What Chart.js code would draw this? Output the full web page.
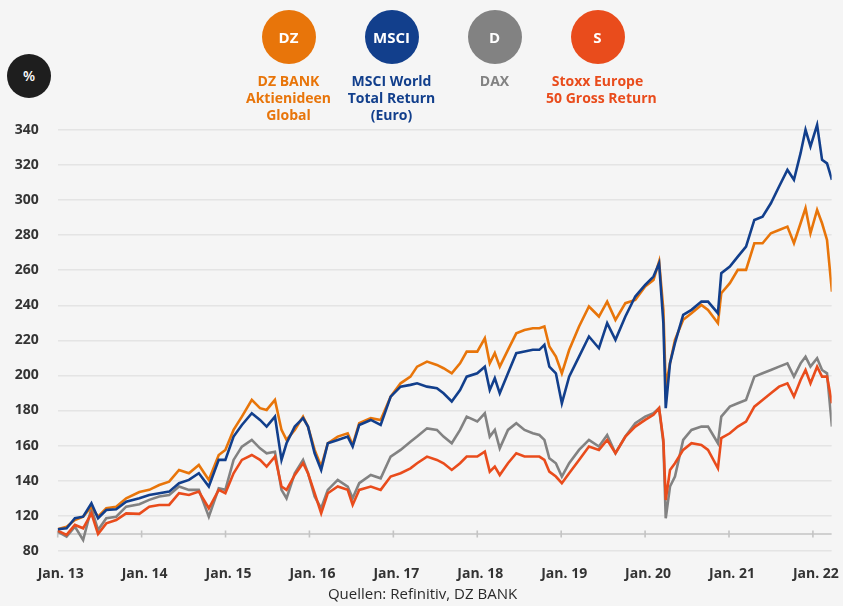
<!DOCTYPE html>
<html>
<head>
<meta charset="utf-8">
<script src="https://cdn.jsdelivr.net/npm/chart.js@4.4.1/dist/chart.umd.min.js"></script>
<style>
  html, body { margin: 0; padding: 0; background: #f5f5f5; }
  body { width: 843px; height: 606px; position: relative; overflow: hidden; font-family: "Open Sans", sans-serif; }
  #chart { position: absolute; left: 0; top: 0; }
  .badge { position: absolute; left: 7px; top: 54px; width: 44px; height: 44px; border-radius: 50%; background: #1e1e1e; color: #fff; font-size: 14px; font-weight: 600; line-height: 44px; text-align: center; }
  #legend { position: absolute; left: 237px; top: 10px; display: flex; }
  .item { width: 103px; text-align: center; }
  .dot { width: 54px; height: 54px; border-radius: 50%; margin: 0 auto; color: #fff; font-size: 15px; font-weight: 700; line-height: 54px; }
  .name { margin-top: 7.5px; font-size: 14px; font-weight: 700; line-height: 17px; white-space: pre; }
  .source { position: absolute; left: 0; width: 845px; top: 583px; text-align: center; font-size: 15px; color: #2a2a2a; }
</style>
</head>
<body>
<canvas id="chart" width="843" height="606"></canvas>
<div class="badge">%</div>
<div id="legend"></div>
<div class="source">Quellen: Refinitiv, DZ BANK</div>
<script>
// dates as decimal years
const dates = [2013.000, 2013.106, 2013.205, 2013.303, 2013.402, 2013.481, 2013.579, 2013.697, 2013.816, 2013.973,
  2014.091, 2014.210, 2014.328, 2014.446, 2014.564, 2014.682, 2014.801, 2014.919, 2014.998, 2015.096,
  2015.195, 2015.313, 2015.411, 2015.490, 2015.589, 2015.667, 2015.727, 2015.825, 2015.924, 2015.983,
  2016.062, 2016.140, 2016.219, 2016.337, 2016.456, 2016.515, 2016.593, 2016.731, 2016.849, 2016.968,
  2017.086, 2017.204, 2017.283, 2017.401, 2017.519, 2017.598, 2017.696, 2017.795, 2017.874, 2018.000,
  2018.090, 2018.149, 2018.209, 2018.268, 2018.366, 2018.465, 2018.563, 2018.662, 2018.740, 2018.800,
  2018.859, 2018.937, 2019.008, 2019.095, 2019.213, 2019.331, 2019.450, 2019.548, 2019.647, 2019.765,
  2019.883, 2020.001, 2020.100, 2020.167, 2020.218, 2020.246, 2020.297, 2020.356, 2020.454, 2020.553,
  2020.671, 2020.750, 2020.868, 2020.908, 2021.010, 2021.105, 2021.203, 2021.302, 2021.400, 2021.499,
  2021.597, 2021.696, 2021.774, 2021.853, 2021.912, 2021.971, 2022.050, 2022.109, 2022.168, 2022.227];

const dzBank = [112.2, 113.7, 117.5, 119.4, 125.1, 119.4, 124.2, 125.1, 129.9, 133.5,
  134.7, 137.5, 139.4, 146.1, 144.2, 148.9, 140.4, 154.6, 157.5, 168.9,
  176.5, 186.0, 181.3, 180.3, 186.0, 168.9, 163.2, 168.9, 176.5, 170.8,
  157.5, 148.0, 161.3, 165.1, 167.0, 160.3, 172.7, 175.6, 174.6, 187.9,
  195.5, 199.3, 205.0, 207.9, 206.0, 204.1, 201.2, 206.9, 213.6, 213.6,
  221.2, 206.9, 212.7, 205.0, 214.6, 224.0, 225.9, 226.9, 226.9, 227.9,
  216.5, 210.7, 201.2, 214.5, 227.9, 239.3, 233.6, 242.1, 231.7, 241.2,
  243.1, 250.7, 254.5, 265.0, 237.4, 193.6, 207.0, 220.3, 231.7, 235.5,
  240.2, 237.4, 229.8, 246.9, 252.6, 260.2, 260.2, 275.4, 275.4, 281.1,
  283.0, 284.9, 275.4, 286.8, 295.4, 281.1, 294.4, 286.8, 277.3, 247.8];

const msciWorld = [112.2, 112.8, 118.5, 119.4, 127.0, 118.5, 123.2, 123.6, 128.0, 129.9,
  131.8, 132.8, 133.7, 138.5, 140.4, 144.2, 136.6, 151.8, 151.8, 165.1,
  171.7, 178.4, 174.6, 170.8, 176.5, 151.8, 161.3, 170.8, 175.6, 170.8,
  155.6, 146.1, 161.3, 163.2, 165.1, 159.4, 171.7, 174.6, 171.7, 187.9,
  193.6, 194.6, 195.5, 193.6, 192.7, 189.8, 185.1, 191.7, 199.3, 201.2,
  205.0, 191.7, 198.4, 189.8, 201.2, 212.7, 213.6, 214.6, 214.6, 217.4,
  205.0, 201.2, 184.1, 199.3, 210.7, 222.2, 215.5, 229.8, 220.3, 233.6,
  245.0, 251.6, 256.4, 264.0, 229.8, 181.3, 207.0, 218.4, 234.5, 237.4,
  242.1, 242.1, 235.5, 258.3, 262.1, 267.8, 273.5, 288.7, 290.6, 298.2,
  307.8, 317.3, 311.6, 326.8, 340.1, 330.6, 342.9, 323.0, 321.0, 311.6];

const dax = [110.9, 108.0, 113.7, 106.1, 124.2, 111.8, 118.5, 119.4, 125.1, 126.5,
  129.0, 130.9, 131.8, 136.6, 134.7, 134.7, 119.4, 135.6, 134.7, 151.8,
  159.4, 163.2, 158.4, 155.6, 156.5, 134.7, 129.9, 144.2, 151.8, 144.2,
  130.9, 124.2, 134.7, 140.4, 136.6, 129.9, 138.5, 143.2, 141.3, 153.7,
  157.5, 162.2, 165.1, 169.8, 168.9, 165.1, 161.3, 168.9, 176.5, 173.7,
  178.4, 165.1, 168.9, 158.4, 168.9, 172.7, 168.9, 167.0, 166.0, 163.2,
  152.7, 149.9, 142.3, 149.9, 157.5, 163.2, 159.4, 166.0, 155.6, 165.1,
  172.7, 176.5, 178.4, 181.3, 161.3, 118.5, 136.6, 142.3, 163.2, 168.9,
  170.8, 170.8, 161.3, 176.5, 182.2, 184.1, 186.0, 199.3, 201.2, 203.1,
  205.0, 206.9, 199.3, 206.9, 210.7, 205.0, 209.8, 203.1, 201.2, 170.8];

const stoxx = [111.5, 109.0, 114.7, 112.8, 121.3, 109.5, 115.6, 117.5, 121.3, 121.0,
  125.1, 126.1, 126.1, 132.8, 131.8, 133.7, 124.2, 134.7, 132.8, 144.2,
  151.8, 154.6, 151.8, 148.0, 153.7, 136.6, 134.7, 143.2, 149.9, 144.2,
  132.8, 121.3, 132.8, 136.6, 134.7, 126.1, 134.7, 136.6, 134.7, 142.3,
  144.2, 147.0, 149.9, 153.7, 151.8, 149.9, 146.1, 149.9, 153.7, 153.7,
  156.5, 145.1, 148.0, 143.2, 149.9, 155.6, 153.7, 153.7, 153.7, 151.8,
  145.1, 142.3, 138.5, 144.2, 151.8, 159.4, 157.5, 163.2, 155.6, 165.1,
  170.8, 174.6, 177.5, 181.3, 163.2, 128.9, 146.1, 149.9, 157.5, 161.3,
  160.3, 157.5, 147.0, 164.2, 167.0, 170.8, 173.7, 182.2, 186.0, 189.8,
  193.6, 195.5, 187.9, 197.4, 203.1, 195.5, 205.0, 199.3, 199.3, 184.1];

const seriesNames = ['DZ BANK\nAktienideen\nGlobal', 'MSCI World\nTotal Return\n(Euro)', 'DAX', 'Stoxx Europe\n50 Gross Return'];
const seriesShort = ['DZ', 'MSCI', 'D', 'S'];
const seriesColors = ['#e8750a', '#123f8c', '#828282', '#e94c1c'];
const seriesValues = [dzBank, msciWorld, dax, stoxx];

const yTickValues = [100, 120, 140, 160, 180, 200, 220, 240, 260, 280, 300, 320, 340];
const yTickLabels = ['80', '120', '140', '160', '180', '200', '220', '240', '260', '280', '300', '320', '340'];
const xTickValues = [2013, 2014, 2015, 2016, 2017, 2018, 2019, 2020, 2021, 2022];
const xTickLabels = ['Jan. 13', 'Jan. 14', 'Jan. 15', 'Jan. 16', 'Jan. 17', 'Jan. 18', 'Jan. 19', 'Jan. 20', 'Jan. 21', 'Jan. 22'];

const axisLineValue = 109.5;

const legend = document.getElementById('legend');
seriesNames.forEach((name, i) => {
	legend.insertAdjacentHTML('beforeend', `<div class="item">
		<div class="dot" style="background:${seriesColors[i]}">${seriesShort[i]}</div>
		<div class="name" style="color:${seriesColors[i]}">${name}</div>
	</div>`);
});

// x axis line sits inside the plot, with small ticks at each January
const axisLine = {
	id: 'axisLine',
	beforeDatasetsDraw(chart) {
		const ctx = chart.ctx, area = chart.chartArea;
		const y = chart.scales.y.getPixelForValue(axisLineValue);
		ctx.save();
		ctx.strokeStyle = '#c4c4c4';
		ctx.lineWidth = 1.6;
		ctx.beginPath();
		ctx.moveTo(area.left, y);
		ctx.lineTo(area.right, y);
		for (const v of xTickValues) {
			const x = chart.scales.x.getPixelForValue(v);
			ctx.moveTo(x, y - 3.5);
			ctx.lineTo(x, y + 3.5);
		}
		ctx.stroke();
		ctx.restore();
	}
};

const drawOrder = [1, 0, 3, 2];
const datasets = drawOrder.map(i => ({
	label: seriesNames[i],
	data: dates.map((d, k) => ({x: d, y: seriesValues[i][k]})),
	borderColor: seriesColors[i],
	borderWidth: 2.6,
	pointRadius: 0,
	tension: 0,
	fill: false
}));

const tickFont = {family: '"Open Sans", sans-serif', size: 14, weight: 'bold'};

new Chart(document.getElementById('chart'), {
	type: 'line',
	data: {datasets: datasets},
	options: {
		responsive: false,
		animation: false,
		devicePixelRatio: 1,
		layout: {padding: {top: 119.5, right: 5, bottom: 0, left: 0}},
		plugins: {legend: {display: false}, tooltip: {enabled: false}},
		scales: {
			x: {
				type: 'linear',
				min: 2013,
				max: 2022.223,
				afterBuildTicks: s => { s.ticks = xTickValues.map(v => ({value: v})); },
				afterFit: s => { s.height = 55.3; },
				grid: {display: false},
				border: {display: false},
				ticks: {
					color: '#333',
					font: tickFont,
					padding: 7,
					labelOffset: 3,
					maxRotation: 0,
					callback: (v, i) => xTickLabels[i]
				}
			},
			y: {
				min: 100,
				max: 346,
				afterBuildTicks: s => { s.ticks = yTickValues.map(v => ({value: v})); },
				afterFit: s => { s.width = 57.7; },
				grid: {color: '#e4e4e4', lineWidth: 1.5, drawTicks: false},
				border: {display: false},
				ticks: {
					color: '#333',
					font: tickFont,
					padding: 19,
					callback: (v, i) => yTickLabels[i]
				}
			}
		}
	},
	plugins: [axisLine]
});
</script>
</body>
</html>
